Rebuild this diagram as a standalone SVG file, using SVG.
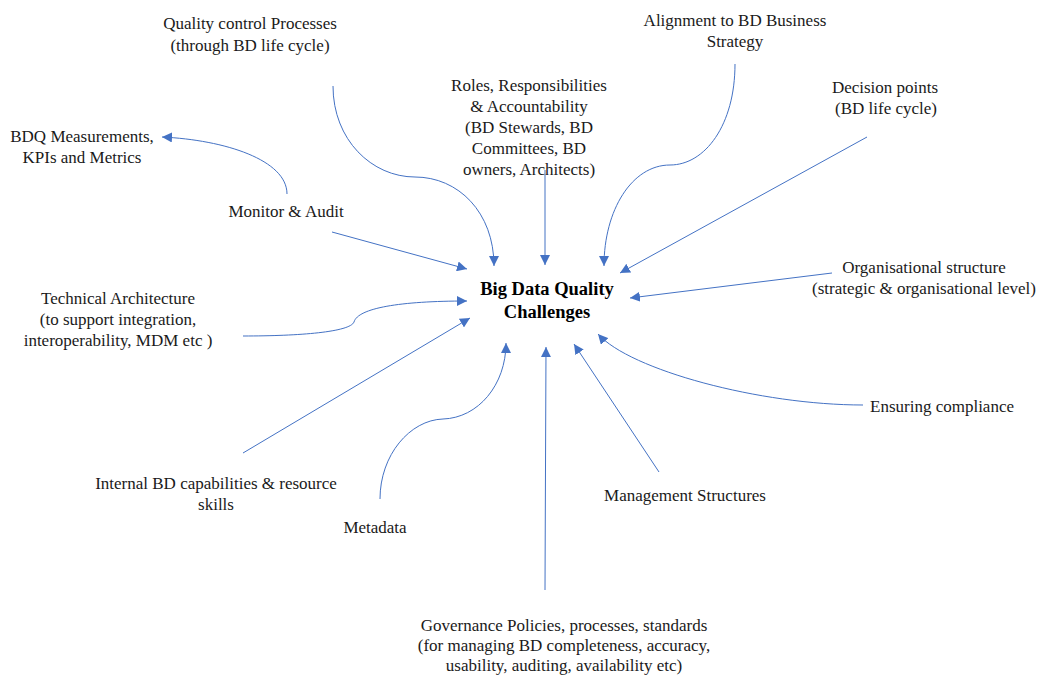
<svg xmlns="http://www.w3.org/2000/svg" width="1039" height="675" viewBox="0 0 1039 675">
<style>
.t{font-family:"Liberation Serif","Times New Roman",serif;font-size:17px;fill:#1a1a1a;text-anchor:middle}
.c{font-family:"Liberation Serif","Times New Roman",serif;font-size:18.5px;font-weight:bold;fill:#000;text-anchor:middle}
.l{fill:none;stroke:#4472C4;stroke-width:1;marker-end:url(#ah)}
</style>
<defs>
<marker id="ah" markerUnits="userSpaceOnUse" markerWidth="10" markerHeight="10" refX="10" refY="5" orient="auto" viewBox="0 0 10 10">
<path d="M0,0 L10,5 L0,10 z" fill="#4472C4"/>
</marker>
</defs>
<rect width="1039" height="675" fill="#fff"/>
<g id="connectors">
<path class="l" d="M333,86 C333,140 372,177 415,177 C458,177 494,212 494,266"/>
<path class="l" d="M545,170 L545,265"/>
<path class="l" d="M735,64 C735,125 705,165 670,165 C632,165 604,210 604,266"/>
<path class="l" d="M867,137 L620,273"/>
<path class="l" d="M832,273 L630,298"/>
<path class="l" d="M863,405 C760,405 630,370 598,334"/>
<path class="l" d="M659,472 L574,344"/>
<path class="l" d="M545,590 L546,347"/>
<path class="l" d="M380,499 C380,455 410,420 443,419 C478,418 506,385 506,343"/>
<path class="l" d="M243,453 L470,318"/>
<path class="l" d="M243,336 C300,336 350,332 354,322 C358,308 400,301 467,301"/>
<path class="l" d="M332,232 L467,269"/>
<path class="l" d="M287,194 C287,160 225,140 162,137"/>
</g>
<g id="center"><text class="c" x="547" y="295">Big Data Quality</text><text class="c" x="547" y="318">Challenges</text></g>
<g id="quality-control"><text class="t" x="250" y="29">Quality control Processes</text><text class="t" x="250" y="51">(through BD life cycle)</text></g>
<g id="alignment"><text class="t" x="735" y="26">Alignment to BD Business</text><text class="t" x="735" y="47">Strategy</text></g>
<g id="roles"><text class="t" x="529" y="91">Roles, Responsibilities</text><text class="t" x="529" y="112">&amp; Accountability</text><text class="t" x="529" y="133">(BD Stewards, BD</text><text class="t" x="529" y="154">Committees, BD</text><text class="t" x="529" y="175">owners, Architects)</text></g>
<g id="decision"><text class="t" x="885" y="93">Decision points</text><text class="t" x="886" y="114">(BD life cycle)</text></g>
<g id="bdq"><text class="t" x="82" y="142">BDQ Measurements,</text><text class="t" x="82" y="163">KPIs and Metrics</text></g>
<g id="monitor"><text class="t" x="286" y="217">Monitor &amp; Audit</text></g>
<g id="organisational"><text class="t" x="924" y="273">Organisational structure</text><text class="t" x="924" y="294">(strategic &amp; organisational level)</text></g>
<g id="technical"><text class="t" x="118" y="304">Technical  Architecture</text><text class="t" x="118" y="325">(to support integration,</text><text class="t" x="118" y="346">interoperability, MDM  etc )</text></g>
<g id="compliance"><text class="t" x="870" y="412" style="text-anchor:start">Ensuring compliance</text></g>
<g id="internal"><text class="t" x="216" y="489">Internal BD capabilities &amp; resource</text><text class="t" x="216" y="510">skills</text></g>
<g id="management"><text class="t" x="685" y="501">Management  Structures</text></g>
<g id="metadata"><text class="t" x="375" y="533">Metadata</text></g>
<g id="governance"><text class="t" x="564" y="631">Governance  Policies, processes, standards</text><text class="t" x="564" y="651">(for managing BD completeness, accuracy,</text><text class="t" x="564" y="671">usability, auditing, availability etc)</text></g>
</svg>
